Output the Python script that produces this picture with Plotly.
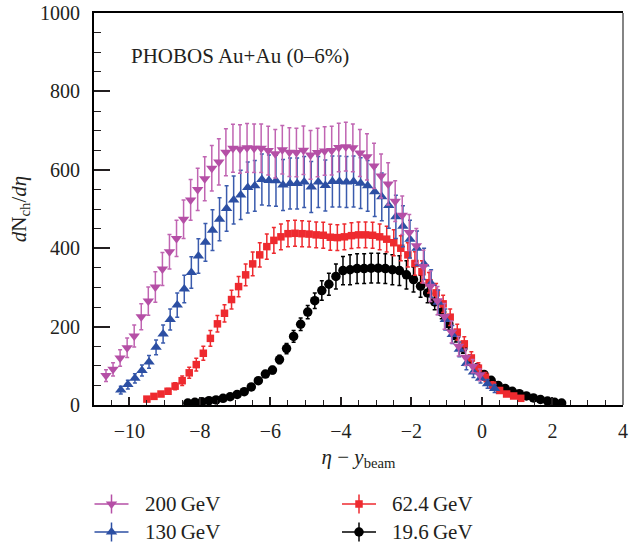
import plotly.graph_objects as go

# --- data -------------------------------------------------------------
ETA = [-5.3, -5.1, -4.9, -4.7, -4.5, -4.3, -4.1, -3.9, -3.7, -3.5, -3.3, -3.1,
       -2.9, -2.7, -2.5, -2.3, -2.1, -1.9, -1.7, -1.5, -1.3, -1.1, -0.9, -0.7,
       -0.5, -0.3, -0.1, 0.1, 0.3, 0.5, 0.7, 0.9, 1.1, 1.3, 1.5, 1.7, 1.9, 2.1,
       2.3, 2.5, 2.7, 2.9, 3.1, 3.3, 3.5, 3.7, 3.9, 4.1, 4.3, 4.5, 4.7, 4.9,
       5.1, 5.3]

Y_BEAM = {"200": 5.36, "130": 4.94, "62.4": 4.20, "19.6": 3.04}

DN_200 = [75, 91, 120, 146, 176, 225, 265, 301, 347, 391, 425, 474, 523, 550, 577, 604, 620, 645, 655,
          653, 656, 655, 655, 649, 641, 651, 645, 644, 650, 638, 644, 648, 649, 657, 659,
          656, 643, 633, 610, 584, 564, 520, 484, 440, 406, 353, 303, 266, 226, 186, 150, 122, 99, 77]
ERR_200 = [15, 17, 21, 25, 28, 33, 36, 39, 42, 44, 46, 49, 52, 54, 56, 58, 59, 60, 61,
           62, 62, 62, 62, 62, 62, 62, 62, 62, 62, 62, 62, 62, 62, 62, 62,
           61, 60, 59, 58, 56, 54, 52, 49, 46, 44, 42, 39, 36, 33, 28, 25, 21, 17, 15]

DN_130 = [38, 52, 68, 88, 110, 147, 181, 218, 255, 296, 338, 380, 415, 446, 474, 501, 523, 536,
          555, 559, 575, 573, 572, 561, 565, 565, 569, 556, 569, 560, 570, 570, 569, 570, 566, 559,
          544, 531, 509, 480, 456, 423, 400, 360, 310, 262, 218, 180, 142, 106, 84, 68, 54, 42]
ERR_130 = [10, 11, 12, 14, 16, 19, 23, 27, 31, 35, 40, 44, 48, 52, 55, 58, 61, 63,
           65, 65, 65, 65, 65, 65, 65, 65, 65, 65, 65, 65, 65, 65, 65, 65, 65, 65,
           63, 61, 58, 55, 52, 48, 44, 40, 35, 31, 27, 23, 19, 16, 14, 12, 11, 10]

DN_62 = [15, 22, 28, 35, 48, 62, 82, 103, 132, 170, 207, 234, 269, 302, 332, 360, 383, 404, 420, 429,
         437, 438, 437, 436, 434, 433, 428, 427, 429, 432, 434, 434, 433, 429,
         423, 414, 400, 383, 361, 340, 312, 286, 258, 224, 186, 156, 120, 94, 71, 50, 37, 28, 23, 17]
ERR_62 = [4, 5, 6, 7, 9, 12, 14, 16, 18, 20, 21, 22, 24, 26, 28, 30, 31, 32, 33, 33,
          33, 33, 33, 33, 33, 33, 33, 33, 33, 33, 33, 33, 33, 33,
          33, 33, 32, 31, 30, 28, 26, 24, 22, 21, 20, 18, 16, 14, 12, 9, 7, 6, 5, 4]

DN_19 = [5, 7, 8, 11, 13, 17, 21, 27, 34, 46, 62, 79, 89, 116, 144, 175, 206, 237, 266, 292, 308,
         328, 343, 345, 348, 348, 349, 349, 348, 345, 343, 332, 320,
         303, 286, 263, 237, 207, 176, 145, 116, 95, 78, 63, 50, 42, 35, 29, 23, 18, 14, 10, 7, 5]
ERR_19 = [1, 1, 2, 2, 2, 3, 3, 4, 4, 5, 6, 8, 9, 11, 13, 15, 16, 17, 20, 25, 28,
          32, 36, 38, 38, 38, 38, 38, 38, 38, 38, 36, 32,
          28, 25, 20, 17, 16, 15, 13, 11, 9, 8, 6, 5, 4, 4, 3, 3, 2, 2, 2, 1, 1]

LABELS = ["200\u2009GeV", "130\u2009GeV", "62.4\u2009GeV", "19.6\u2009GeV"]
X_TICKS = [-10, -8, -6, -4, -2, 0, 2, 4]
Y_TICKS = [0, 200, 400, 600, 800, 1000]

# --- style ------------------------------------------------------------
FONT = "Liberation Serif, Times New Roman, serif"
TXT = "#231f20"
C_MAG = "#b54fa6"
C_MAG_BAR = "#c065b2"
C_BLUE = "#2c4fa3"
C_BLUE_BAR = "#3a5bad"
C_RED = "#ee2a2f"
C_BLK = "#000000"

series = [
    # key, values, errors, color, bar colour, symbol, size, label index
    ("19.6", DN_19, ERR_19, C_BLK, C_BLK, "circle", 9.5, 3),
    ("62.4", DN_62, ERR_62, C_RED, C_RED, "square", 7.5, 2),
    ("130", DN_130, ERR_130, C_BLUE, C_BLUE_BAR, "triangle-up", 10, 1),
    ("200", DN_200, ERR_200, C_MAG, C_MAG_BAR, "triangle-down", 10, 0),
]

fig = go.Figure()
for key, vals, errs, col, bcol, sym, size, li in series:
    xs = [e - Y_BEAM[key] for e in ETA]
    fig.add_trace(go.Scatter(
        x=xs, y=vals, mode="markers", name=LABELS[li], showlegend=False,
        marker=dict(symbol=sym, size=size, color=col, line=dict(width=0)),
        error_y=dict(type="data", array=errs, visible=True, color=bcol,
                     thickness=1.5, width=2),
        xaxis="x", yaxis="y",
    ))

# --- manual legend (cross-shaped symbols) on an auxiliary pixel axis ----
legend_items = [
    # label index, colour, symbol, size, x of symbol, y row
    (0, C_MAG, "triangle-down", 10, 111.5, 504),
    (1, C_BLUE, "triangle-up", 10, 111.5, 532),
    (2, C_RED, "square", 7.5, 359, 504),
    (3, C_BLK, "circle", 9.5, 359, 532),
]
for li, col, sym, size, lx, ly in legend_items:
    fig.add_trace(go.Scatter(
        x=[lx], y=[ly], mode="markers", showlegend=False, hoverinfo="skip",
        marker=dict(symbol=sym, size=size, color=col),
        error_x=dict(type="constant", value=17, color=col, thickness=1.5, width=0),
        error_y=dict(type="constant", value=9.5, color=col, thickness=1.5, width=0),
        xaxis="x2", yaxis="y2",
    ))
    fig.add_annotation(x=lx + 31, y=ly, xref="x2", yref="y2", text=LABELS[li],
                       showarrow=False, xanchor="left", yanchor="middle",
                       font=dict(family=FONT, size=21, color=TXT))

fig.add_annotation(x=-10.0, y=890, xref="x", yref="y",
                   text="PHOBOS Au+Au (0\u20136%)", showarrow=False,
                   xanchor="left", yanchor="middle",
                   font=dict(family=FONT, size=21, color=TXT))

# right frame (thinner)
fig.add_shape(type="line", xref="paper", yref="paper", x0=1, x1=1,
              y0=0.2673, y1=1, line=dict(color="#333333", width=1.2))

fig.update_layout(
    width=643, height=548,
    margin=dict(l=94, r=20, t=13, b=0, autoexpand=False),
    paper_bgcolor="white", plot_bgcolor="white",
    font=dict(family=FONT, size=20, color=TXT),
    xaxis=dict(
        range=[-11, 4], tickmode="array", tickvals=X_TICKS,
        ticks="inside", ticklen=8, tickwidth=1.5, tickcolor=TXT,
        showline=True, linewidth=2, linecolor="#000", mirror=True,
        showgrid=False, zeroline=False, ticklabelstandoff=7,
        tickfont=dict(family=FONT, size=20, color=TXT),
        minor=dict(dtick=0.5, tick0=0, ticks="inside", ticklen=5, tickwidth=1.2,
                   tickcolor=TXT, showgrid=False),
        title=dict(text="<i>η</i> − <i>y</i><sub>beam</sub>",
                   font=dict(family=FONT, size=21, color=TXT), standoff=8),
        anchor="y", domain=[0, 1], automargin=False,
    ),
    yaxis=dict(
        range=[0, 1000], tickmode="array", tickvals=Y_TICKS,
        ticks="inside", ticklen=16, tickwidth=1.5, tickcolor=TXT,
        showline=True, linewidth=2, linecolor="#000", mirror=False,
        showgrid=False, zeroline=False, ticklabelstandoff=8,
        tickfont=dict(family=FONT, size=20, color=TXT),
        minor=dict(dtick=50, tick0=0, ticks="inside", ticklen=7, tickwidth=1.2,
                   tickcolor=TXT, showgrid=False),
        title=dict(text="<i>d</i>N<sub>ch</sub>/<i>dη</i>",
                   font=dict(family=FONT, size=21, color=TXT), standoff=8),
        anchor="x", domain=[0.2673, 1], automargin=False,
    ),
    xaxis2=dict(range=[94, 623], domain=[0, 1], anchor="y2", visible=False,
                fixedrange=True, automargin=False),
    yaxis2=dict(range=[548, 441], domain=[0, 0.2], anchor="x2", visible=False,
                fixedrange=True, automargin=False),
)

fig.write_html("out.html")
